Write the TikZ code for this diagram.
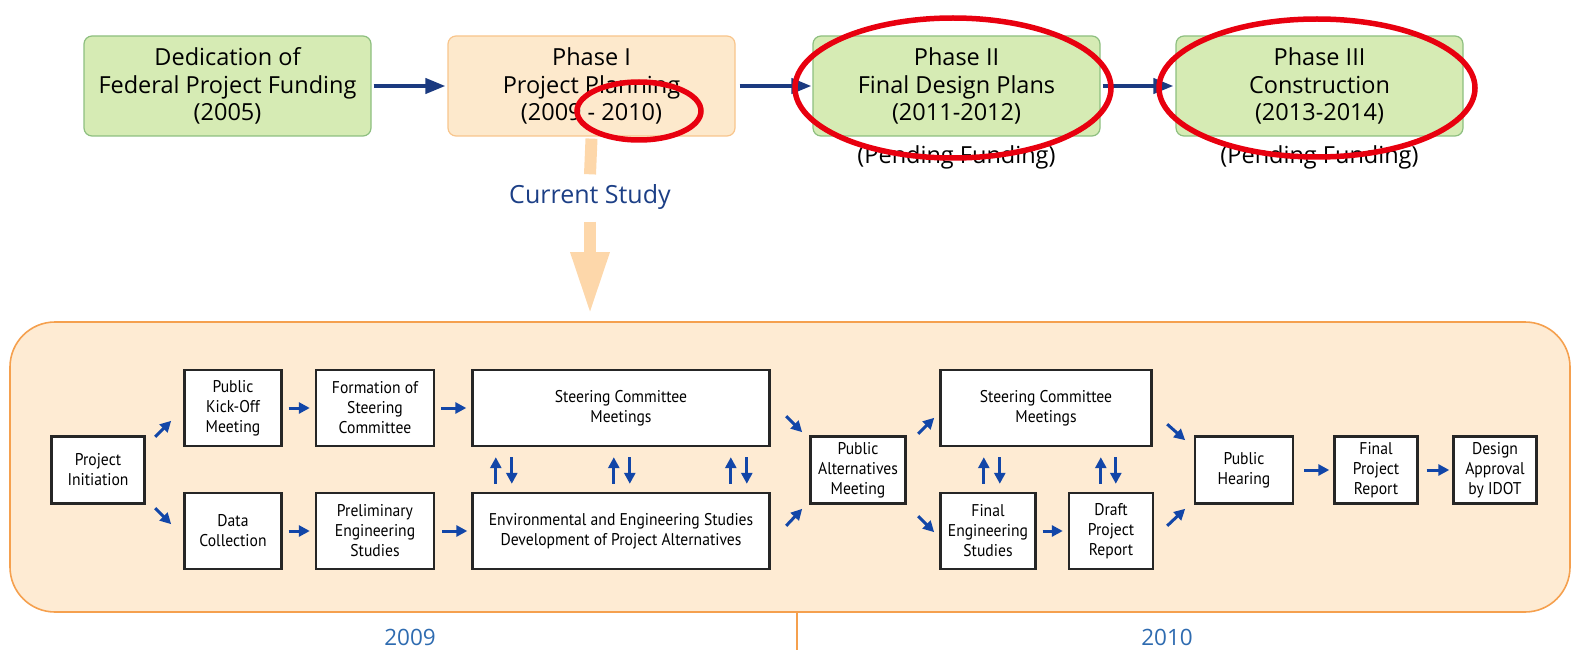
\documentclass[tikz,border=0pt]{standalone}
\usepackage{fontspec}
\setmainfont{PT Sans}
\newfontfamily\topfont{Open Sans}
\newfontfamily\boxfont{PT Sans}[FakeStretch=0.92]
\usetikzlibrary{arrows.meta,calc}
\definecolor{gfill}{HTML}{D6EBB4}
\definecolor{gline}{HTML}{8DBF7F}
\definecolor{ofill}{HTML}{FDE9CC}
\definecolor{oline}{HTML}{F8C58C}
\definecolor{navy}{HTML}{1B3A80}
\definecolor{redc}{HTML}{E8000F}
\definecolor{bigfill}{HTML}{FEEBD3}
\definecolor{bigline}{HTML}{F5A04E}
\definecolor{stemc}{HTML}{FDD7AA}
\definecolor{csc}{HTML}{1C3F86}
\definecolor{arrc}{HTML}{1246A8}
\definecolor{yearc}{HTML}{2E6BB0}
\tikzset{
  tbox/.style={draw, rounded corners=8, line width=1.2, minimum width=287, minimum height=100, inner sep=0, align=center, font=\topfont\fontsize{23.5}{27.5}\selectfont},
  gbox/.style={tbox, fill=gfill, draw=gline},
  obox/.style={tbox, fill=ofill, draw=oline},
  sbox/.style={draw=black!85, fill=white, line width=2.4, inner sep=0, align=center, font=\boxfont\fontsize{17}{20}\selectfont},
  tarr/.style={-{Triangle[length=20,width=15]}, line width=4, navy},
  sarr/.style={-{Triangle[length=11,width=11]}, line width=3, arrc},
  redring/.style={draw=redc, line width=5.5},
  lbl/.style={inner sep=0, font=\topfont\fontsize{23.5}{27.5}\selectfont}
}
\begin{document}
\begin{tikzpicture}[x=1pt,y=-1pt]
\useasboundingbox (0,0) rectangle (1572,650);
% top row
\node[gbox] (ded) at (227.5,86) {Dedication of\\Federal Project Funding\\(2005)};
\node[obox] (ph1) at (591.5,86) {Phase I\\Project Planning\\(2009 - 2010)};
\node[gbox] (ph2) at (956.5,86) {Phase II\\Final Design Plans\\(2011-2012)};
\node[gbox] (ph3) at (1319.5,86) {Phase III\\Construction\\(2013-2014)};
\draw[tarr, shorten <=2, shorten >=2] (ded) -- (ph1);
\draw[tarr, shorten <=4, shorten >=1] (ph1) -- (ph2);
\draw[tarr, shorten <=2, shorten >=2] (ph2) -- (ph3);
\node[lbl] (pf2) at (956.5,157) {(Pending Funding)};
\node[lbl] (pf3) at (1319.5,157) {(Pending Funding)};
% big study box
\node[draw=bigline, fill=bigfill, line width=1.6, rounded corners=45, minimum width=1560, minimum height=290, inner sep=0] (study) at (790,467) {};
% current study arrow
\node[lbl, text=csc, inner sep=0, font=\topfont\fontsize{25}{28}\selectfont] (cs) at (590,197) {Current Study};
\draw[stemc, line width=12] ([yshift=-2]ph1.south) -- ([yshift=10]cs.north);
\draw[stemc, line width=12, -{Triangle[length=62,width=36]}, shorten >=7] ([yshift=-12]cs.south) -- (cs |- study.north);
% years
\coordinate (ybot) at (797,650);
\draw[bigline, line width=1.6] (ybot |- study.south) -- (ybot);
\node[lbl, text=yearc, font=\topfont\fontsize{22.5}{27}\selectfont] (y09) at (410,637) {2009};
\node[lbl, text=yearc, font=\topfont\fontsize{22.5}{27}\selectfont] (y10) at (1167,637) {2010};
% small boxes
\node[sbox, minimum width=93, minimum height=67] (init) at (98,470) {Project\\Initiation};
\node[sbox, minimum width=97, minimum height=76] (kick) at (233,408) {Public\\Kick-Off\\Meeting};
\node[sbox, minimum width=97, minimum height=76] (data) at (233,531) {Data\\Collection};
\node[sbox, minimum width=118, minimum height=76] (form) at (375,408) {Formation of\\Steering\\Committee};
\node[sbox, minimum width=118, minimum height=76] (prelim) at (375,531) {Preliminary\\Engineering\\Studies};
\node[sbox, minimum width=297, minimum height=76] (steer1) at (621,408) {Steering Committee\\Meetings};
\node[sbox, minimum width=297, minimum height=76] (env) at (621,531) {Environmental and Engineering Studies\\Development of Project Alternatives};
\node[sbox, minimum width=95, minimum height=67] (pubalt) at (858,470) {Public\\Alternatives\\Meeting};
\node[sbox, minimum width=211, minimum height=76] (steer2) at (1046,408) {Steering Committee\\Meetings};
\node[sbox, minimum width=95, minimum height=76] (fineng) at (988,531) {Final\\Engineering\\Studies};
\node[sbox, minimum width=84, minimum height=76] (draft) at (1111,531) {Draft\\Project\\Report};
\node[sbox, minimum width=98, minimum height=67] (hear) at (1244,470) {Public\\Hearing};
\node[sbox, minimum width=83, minimum height=67] (fpr) at (1376,470) {Final\\Project\\Report};
\node[sbox, minimum width=83, minimum height=67] (idot) at (1495,470) {Design\\Approval\\by IDOT};
% small arrows
\draw[sarr] ($(init.north east)+(9.5,1.5)$) -- ++(16,-16);
\draw[sarr] ($(init.south east)+(9.5,3.5)$) -- ++(16,16);
\draw[sarr, shorten <=6, shorten >=5] (kick) -- (form);
\draw[sarr, shorten <=6, shorten >=5] (form) -- (steer1);
\draw[sarr, shorten <=6, shorten >=5] (data) -- (prelim);
\draw[sarr, shorten <=7, shorten >=4] (prelim) -- (env);
\foreach \dx in {24.5,142.5,259.5}{
  \draw[sarr] ($(env.north west)+(\dx,-8)$) -- ($(steer1.south west)+(\dx,10)$);
  \draw[sarr] ($(steer1.south west)+(\dx+16,10)$) -- ($(env.north west)+(\dx+16,-8)$);
}
\draw[sarr] ($(steer1.south east)+(15.5,-31)$) -- ++(16,16);
\draw[sarr] ($(env.north east)+(15.5,34)$) -- ++(16,-17);
\draw[sarr] ($(pubalt.north east)+(11.5,-1.5)$) -- ++(16,-16);
\draw[sarr] ($(pubalt.south east)+(11.5,11.5)$) -- ++(16,16);
\draw[sarr] ($(fineng.north west)+(44.5,-8)$) -- ($(steer2.south west)+(44.5,10)$);
\draw[sarr] ($(steer2.south west)+(60.5,10)$) -- ($(fineng.north west)+(60.5,-8)$);
\draw[sarr] ($(draft.north west)+(33,-8)$) -- ($(draft.north west |- steer2.south)+(33,10)$);
\draw[sarr] ($(draft.north west |- steer2.south)+(48,10)$) -- ($(draft.north west)+(48,-8)$);
\draw[sarr, shorten <=6, shorten >=5] (fineng) -- (draft);
\draw[sarr] ($(steer2.south east)+(14.5,-23)$) -- ++(18,16);
\draw[sarr] ($(draft.north east)+(13,34)$) -- ++(18,-17);
\draw[sarr, shorten <=10, shorten >=4] (hear) -- (fpr);
\draw[sarr, shorten <=8, shorten >=3] (fpr) -- (idot);
% red annotation rings
\draw[redring] (953,88) ellipse [x radius=158, y radius=70];
\draw[redring] (1317,88) ellipse [x radius=158, y radius=69];
\draw[redring] (639,111) ellipse [x radius=62, y radius=29];
\end{tikzpicture}
\end{document}
